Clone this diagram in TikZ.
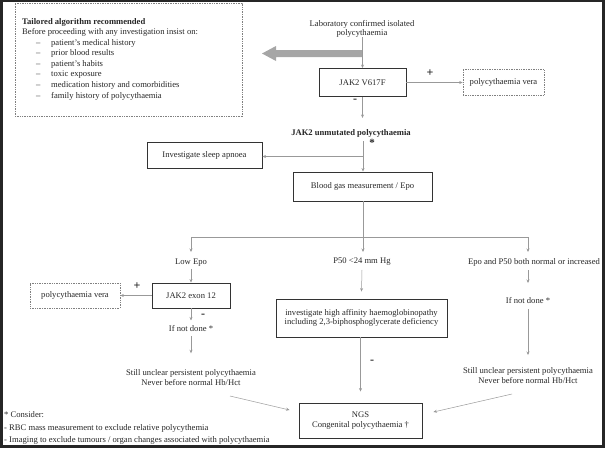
\documentclass[tikz,border=0pt]{standalone}
\usepackage{fontspec}
\setmainfont{Liberation Serif}
\usetikzlibrary{arrows.meta,calc}
\begin{document}
\begin{tikzpicture}[x=1pt,y=-1pt,
  every node/.style={text=black!85},
  font=\fontsize{8.6}{9.5}\selectfont,
  box/.style={draw=black!80,line width=0.9pt,inner sep=0pt,align=center},
  dbox/.style={draw=gray,line width=0.6pt,dash pattern=on 1pt off 0.7pt,inner sep=0pt,align=center},
  conn/.style={draw=gray!80,line width=0.5pt},
  arr/.style={conn,-{Stealth[length=3.5pt,width=3pt]}},
  txt/.style={inner sep=0pt,align=center},
  ltxt/.style={inner sep=0pt,anchor=west,align=left},
  sign/.style={inner sep=0pt,font=\fontsize{12}{12}\selectfont\bfseries}]
\useasboundingbox (0,0) rectangle (605,448);
% outer frame
\fill[black!85] (0,0) rectangle (3,448);
\fill[black!85] (602,0) rectangle (605,448);
\fill[black!85] (0,445) rectangle (605,448);
\fill[black!85] (0,0) rectangle (605,1.5);

% tailored box
\node[dbox,minimum width=227,minimum height=113] (tail) at (128.5,59.5) {};
\node[ltxt,font=\fontsize{8.6}{9.5}\selectfont\bfseries] (t0) at (22,22) {Tailored algorithm recommended};
\node[ltxt] (t1) at (22,32.7) {Before proceeding with any investigation insist on:};
\node[ltxt] (t2) at (36,43.2) {\makebox[15pt][l]{–}patient’s medical history};
\node[ltxt] (t3) at (36,53.8) {\makebox[15pt][l]{–}prior blood results};
\node[ltxt] (t4) at (36,64.4) {\makebox[15pt][l]{–}patient’s habits};
\node[ltxt] (t5) at (36,75.0) {\makebox[15pt][l]{–}toxic exposure};
\node[ltxt] (t6) at (36,85.6) {\makebox[15pt][l]{–}medication history and comorbidities};
\node[ltxt] (t7) at (36,96.2) {\makebox[15pt][l]{–}family history of polycythaemia};

% top
\node[txt,font=\fontsize{8.6}{9}\selectfont] (lab) at (362,28.5) {Laboratory confirmed isolated\\polycythaemia};
\node[box,minimum width=87,minimum height=28] (jak) at (362.5,82.5) {JAK2 V617F};
\node[dbox,minimum width=81,minimum height=26] (pv1) at (503.5,82.5) {polycythaemia vera};
\coordinate (ta) at (362,53.5);
\fill[gray!70] (362,50) -- (276,50) -- (276,46) -- (262,53.5) -- (276,61) -- (276,57) -- (362,57) -- cycle;
\draw[arr] (lab.south -| jak.north) -- (jak.north);
\draw[arr] (jak.east) -- (pv1.west);
\node[sign] (plus1) at (430,73) {+};
\node[sign] (minus1) at (355,101) {-};
\node[txt,font=\fontsize{8.6}{9.5}\selectfont\bfseries] (unm) at (351,133) {JAK2 unmutated polycythaemia};
\draw[arr] (jak.south) -- ++(0,21);
\node[sign,font=\fontsize{11}{11}\selectfont\bfseries] (ast) at (372,143) {*};

\node[box,minimum width=115,minimum height=26] (sl) at (204.5,155) {Investigate sleep apnoea};
\node[box,minimum width=139,minimum height=29] (bg) at (362.5,186.5) {Blood gas measurement / Epo};
\coordinate (u0) at (363,141);
\coordinate (br1) at (363,156.5);
\draw[arr] (u0) -- (u0 |- bg.north);
\draw[arr] (br1) -- (sl.east |- br1);

% split
\coordinate (h0) at (363,237);
\coordinate (hl) at (191,237);
\coordinate (hr) at (528,237);
\draw[conn] (bg.south -| h0) -- (h0);
\draw[conn] (hl) -- (hr);
\node[txt] (lowepo) at (191,263) {Low Epo};
\node[txt] (p50) at (362,262) {P50 <24 mm Hg};
\node[txt] (epo) at (534,262) {Epo and P50 both normal or increased};
\draw[arr] (hl) -- (hl |- 0,252);
\draw[arr] (h0) -- (h0 |- 0,252);
\draw[arr] (hr) -- (hr |- 0,252);

% left branch
\node[box,minimum width=78,minimum height=25] (exon) at (191,295.5) {JAK2 exon 12};
\node[dbox,minimum width=90,minimum height=25] (pv2) at (75,295.5) {polycythaemia vera};
\draw[arr] (lowepo.south -| exon.north) ++(0,2) -- (exon.north);
\draw[arr] (exon.west) -- (pv2.east);
\node[sign] (plus2) at (137,286) {+};
\node[sign] (minus2) at (203,316) {-};
\draw[arr] (exon.south) -- ++(0,12);
\node[txt] (nd1) at (191,329) {If not done *};
\draw[arr] (nd1.south) ++(0,4) -- ++(0,17);
\node[txt,font=\fontsize{8.6}{10}\selectfont] (su1) at (191,378) {Still unclear persistent polycythaemia\\Never before normal Hb/Hct};

% middle branch
\node[box,minimum width=171,minimum height=38,font=\fontsize{8.6}{9.5}\selectfont] (hb) at (361.5,318) {investigate high affinity haemoglobinopathy\\including 2,3-biphosphoglycerate deficiency};
\draw[arr] (p50.south) ++(0,4) -- ($(hb.north)+(0,-7)$);
\node[box,minimum width=123,minimum height=35,font=\fontsize{8.6}{9.5}\selectfont] (ngs) at (360.5,420.5) {NGS\\Congenital polycythaemia †};
\draw[arr] (hb.south -| ngs.north) -- ($(ngs.north)+(0,-11)$);
\node[sign] (minus3) at (372,362) {-};

% right branch
\draw[arr] (epo.south -| hr) ++(0,4) -- (528,283);
\node[txt] (nd2) at (528,301) {If not done *};
\draw[arr] (nd2.south -| hr) ++(0,5) -- (528,355);
\node[txt,font=\fontsize{8.6}{10}\selectfont] (su2) at (528,376) {Still unclear persistent polycythaemia\\Never before normal Hb/Hct};

% diagonals
\coordinate (d1s) at (230,396);
\coordinate (d2s) at (512,394);
\draw[arr] (d1s) -- ($(ngs.west)+(-9,-10.5)$);
\draw[arr] (d2s) -- ($(ngs.east)+(11,-8.5)$);

% footnote
\node[ltxt] (f0) at (4,415) {* Consider:};
\node[ltxt] (f1) at (4,428) {- RBC mass measurement to exclude relative polycythemia};
\node[ltxt] (f2) at (4,440) {- Imaging to exclude tumours / organ changes associated with polycythaemia};
\end{tikzpicture}
\end{document}
